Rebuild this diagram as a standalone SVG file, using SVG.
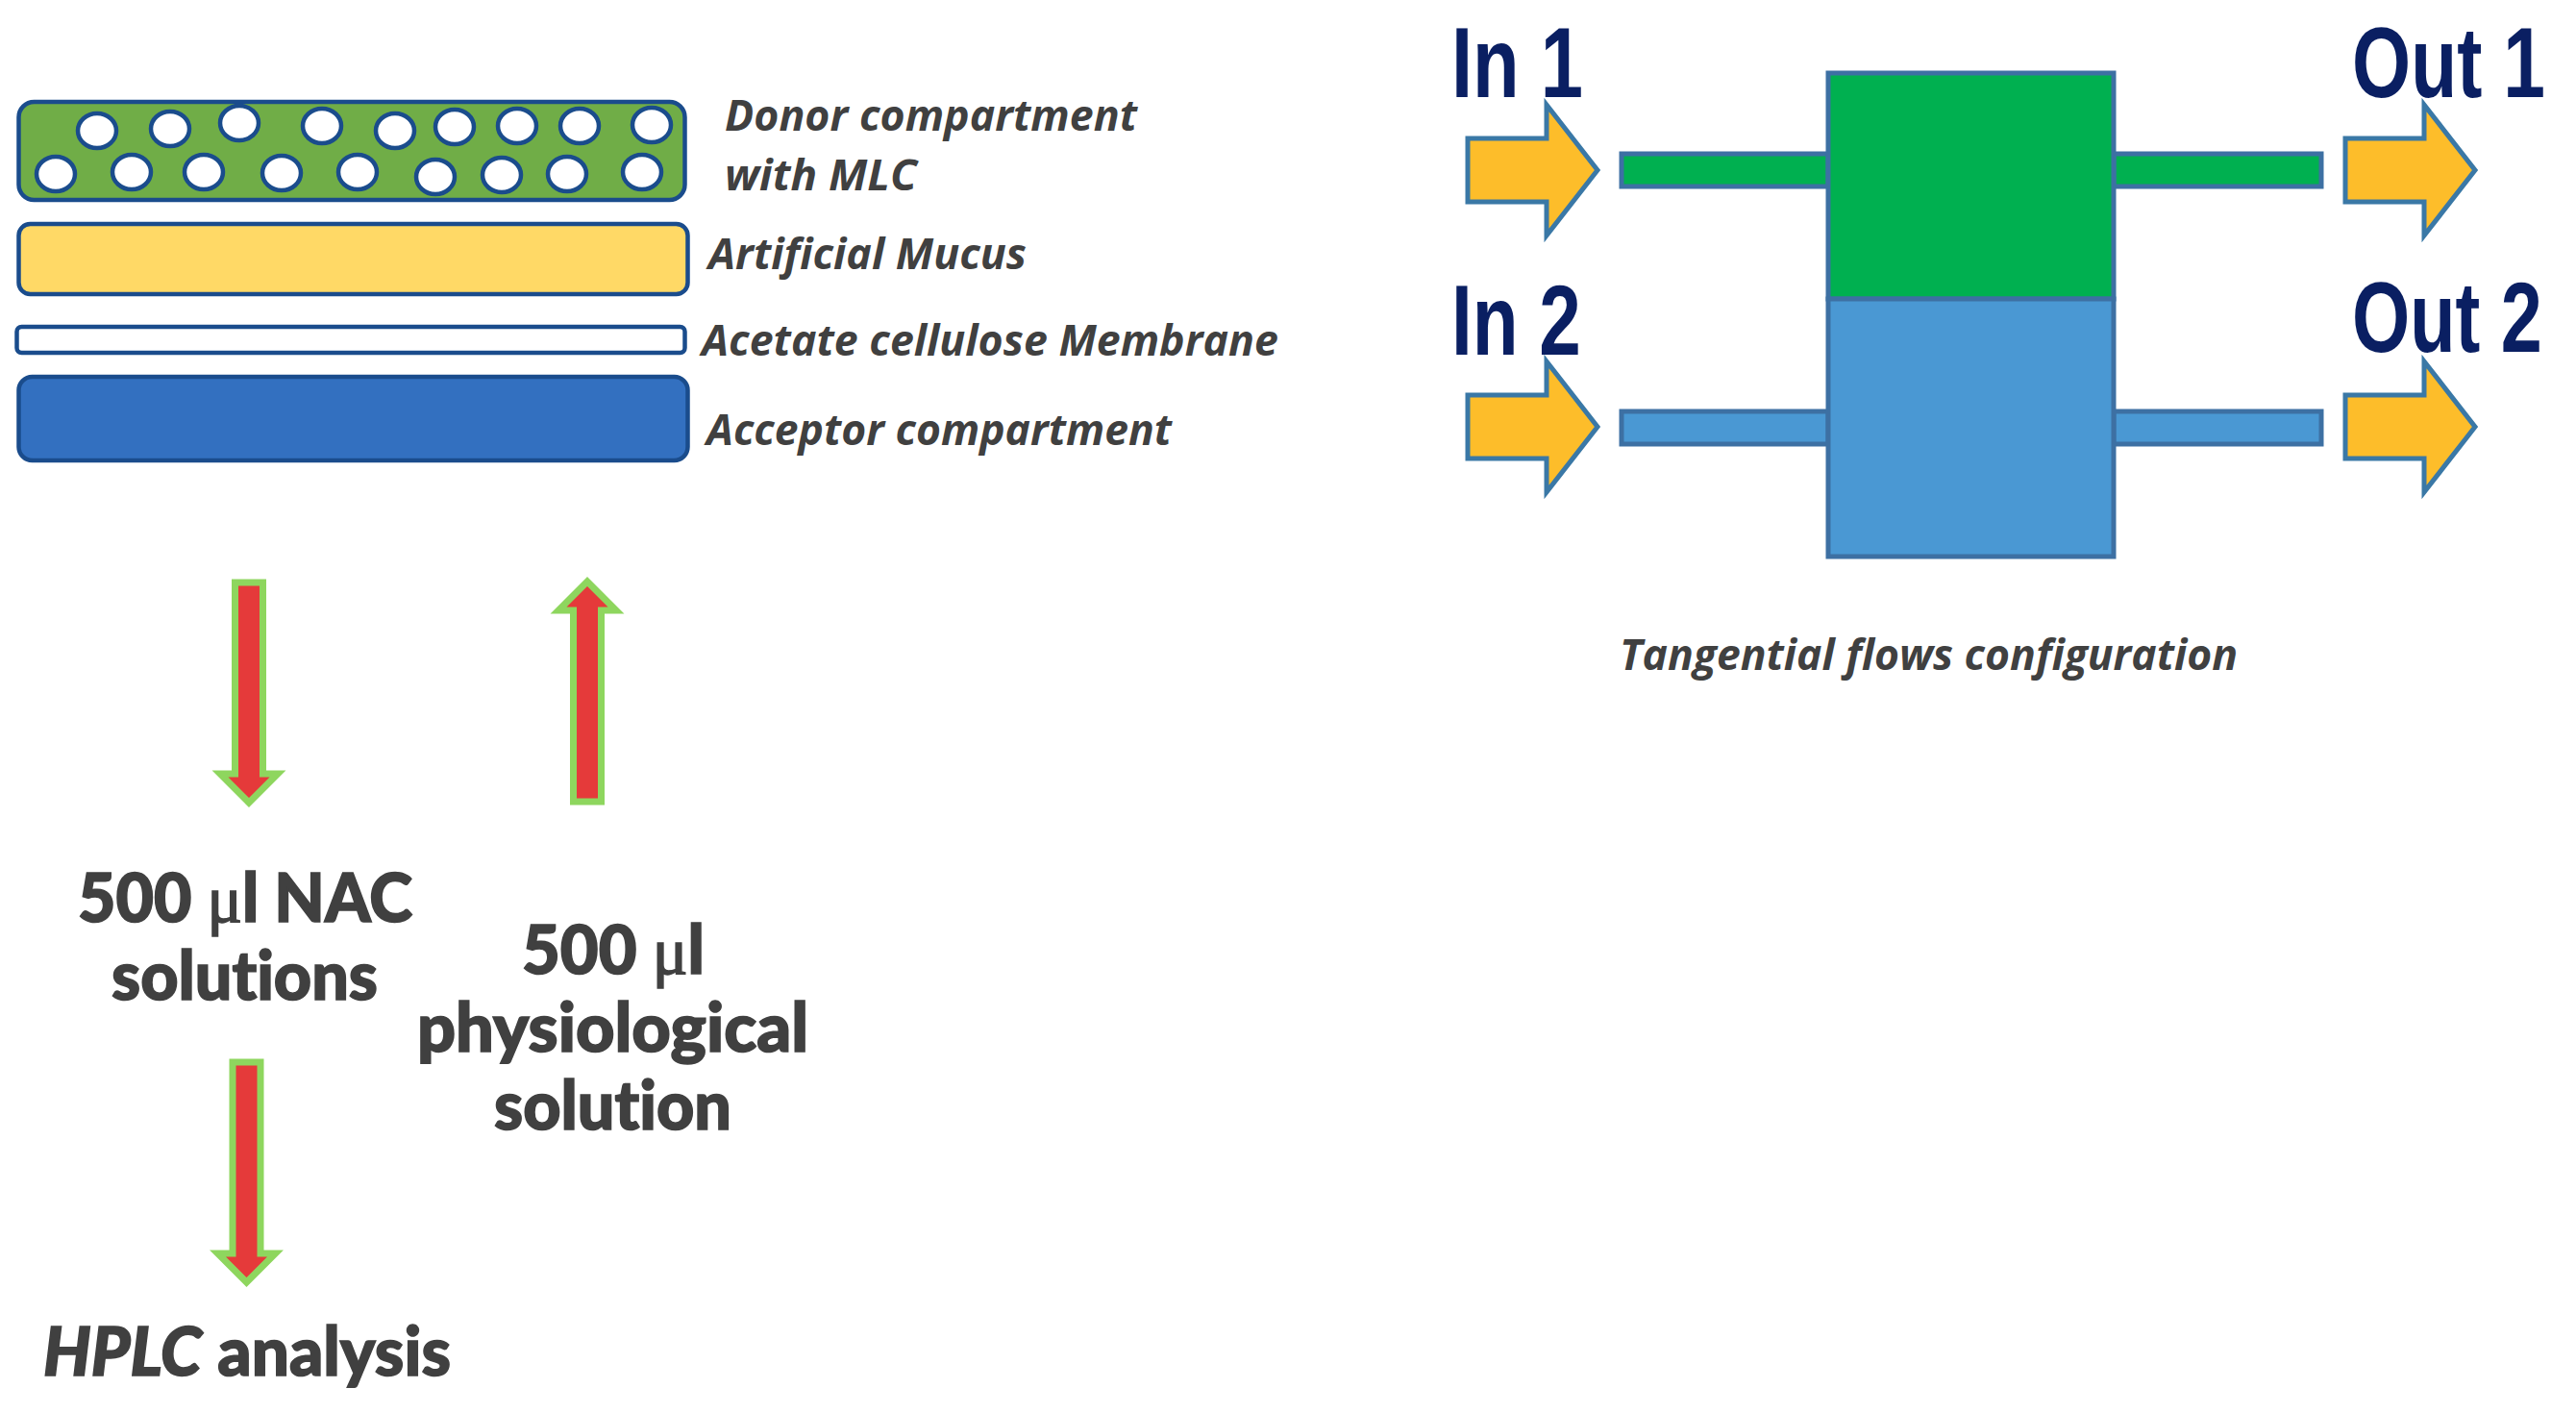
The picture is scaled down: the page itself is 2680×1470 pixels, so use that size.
<svg xmlns="http://www.w3.org/2000/svg" width="2680" height="1470" viewBox="0 0 2680 1470">
<style>
.lay{stroke:#1a4c8c;stroke-width:4.5}
.bub{fill:#fff;stroke:#1a4c8c;stroke-width:4.5}
.lbl{font-family:"Open Sans","Noto Sans",sans-serif;font-style:italic;font-weight:700;font-size:44px;fill:#404040}
.big{font-family:Lato,"Open Sans",sans-serif;font-weight:900;font-size:70px;fill:#404040;stroke:#404040;stroke-width:1.6;font-variant-ligatures:none}
.mu{font-family:"Liberation Serif",serif;font-weight:400}
.io{font-family:"Liberation Sans",Arial,sans-serif;font-weight:700;font-size:103px;fill:#0a1f62}
.flow{stroke:#3d70a3;stroke-width:5}
.g{fill:#00b050}.b{fill:#4a98d3}
.ya{fill:#fdbd2a;stroke:#3a78a6;stroke-width:5;stroke-linejoin:miter}
.ra{fill:#e53a3a;stroke:#8ed65e;stroke-width:7;stroke-linejoin:miter}
</style>
<defs>
<path id="yarrow" d="M0,-33H82V-68L135,0L82,68V33H0Z"/>
<path id="rarrow" d="M-14.5,0H14.5V199H30L0,229L-30,199H-14.5Z"/>
</defs>
<g id="donor">
<rect class="lay" x="19.5" y="106" width="693" height="102" rx="16" fill="#70ad47"/>
<g id="bubbles">
<ellipse class="bub" cx="101" cy="136" rx="20" ry="18"/><ellipse class="bub" cx="177" cy="134" rx="20" ry="18"/><ellipse class="bub" cx="249" cy="128" rx="20" ry="18"/><ellipse class="bub" cx="335" cy="131" rx="20" ry="18"/><ellipse class="bub" cx="411" cy="136" rx="20" ry="18"/><ellipse class="bub" cx="473" cy="132" rx="20" ry="18"/><ellipse class="bub" cx="538" cy="131" rx="20" ry="18"/><ellipse class="bub" cx="603" cy="131" rx="20" ry="18"/><ellipse class="bub" cx="678" cy="130" rx="20" ry="18"/>
<ellipse class="bub" cx="58" cy="181" rx="20" ry="18"/><ellipse class="bub" cx="137" cy="179" rx="20" ry="18"/><ellipse class="bub" cx="212" cy="179" rx="20" ry="18"/><ellipse class="bub" cx="293" cy="180" rx="20" ry="18"/><ellipse class="bub" cx="372" cy="179" rx="20" ry="18"/><ellipse class="bub" cx="453" cy="184" rx="20" ry="18"/><ellipse class="bub" cx="522" cy="182" rx="20" ry="18"/><ellipse class="bub" cx="590" cy="181" rx="20" ry="18"/><ellipse class="bub" cx="668" cy="179" rx="20" ry="18"/>
</g>
<text class="lbl" x="754" y="136" textLength="429" lengthAdjust="spacingAndGlyphs">Donor compartment</text>
<text class="lbl" x="754" y="198" textLength="200" lengthAdjust="spacingAndGlyphs">with MLC</text>
</g>
<g id="mucus">
<rect class="lay" x="19.5" y="233" width="696" height="73" rx="12" fill="#ffd966"/>
<text class="lbl" x="737" y="280" textLength="331" lengthAdjust="spacingAndGlyphs">Artificial Mucus</text>
</g>
<g id="membrane">
<rect class="lay" x="17.5" y="340" width="695" height="27" rx="5" fill="#fff"/>
<text class="lbl" x="730" y="370" textLength="600" lengthAdjust="spacingAndGlyphs">Acetate cellulose Membrane</text>
</g>
<g id="acceptor">
<rect class="lay" x="19.5" y="392" width="696" height="87" rx="14" fill="#3370c0"/>
<text class="lbl" x="735" y="463" textLength="484" lengthAdjust="spacingAndGlyphs">Acceptor compartment</text>
</g>
<g id="connectors">
<use href="#rarrow" class="ra" transform="translate(259,606)"/>
<use href="#rarrow" class="ra" transform="translate(611,834) scale(1,-1)"/>
<use href="#rarrow" class="ra" transform="translate(256.5,1105)"/>
<rect class="flow g" x="1687" y="160" width="215" height="34"/>
<rect class="flow g" x="2199" y="160" width="216" height="34"/>
<rect class="flow b" x="1687" y="428" width="215" height="34"/>
<rect class="flow b" x="2199" y="428" width="216" height="34"/>
<use href="#yarrow" class="ya" transform="translate(1527,177)"/>
<use href="#yarrow" class="ya" transform="translate(1527,444)"/>
<use href="#yarrow" class="ya" transform="translate(2440,177)"/>
<use href="#yarrow" class="ya" transform="translate(2440,444)"/>
</g>
<g id="nac"><text class="big" x="81" y="959" textLength="348" lengthAdjust="spacingAndGlyphs">500 <tspan class="mu">μ</tspan>l NAC</text>
<text class="big" x="116" y="1040" textLength="277" lengthAdjust="spacingAndGlyphs">solutions</text></g>
<g id="physio"><text class="big" x="543" y="1013" textLength="190" lengthAdjust="spacingAndGlyphs">500 <tspan class="mu">μ</tspan>l</text>
<text class="big" x="434" y="1094" textLength="407" lengthAdjust="spacingAndGlyphs">physiological</text>
<text class="big" x="514" y="1175" textLength="247" lengthAdjust="spacingAndGlyphs">solution</text></g>
<g id="hplc"><text class="big" x="45" y="1431" textLength="424" lengthAdjust="spacingAndGlyphs"><tspan font-style="italic">HPLC</tspan> analysis</text></g>
<g id="cell">
<rect class="flow g" x="1902" y="76" width="297" height="235"/>
<rect class="flow b" x="1902" y="311" width="297" height="268"/>
</g>
<g id="in1"><text class="io" transform="translate(1510,101) scale(0.772,1)">In 1</text></g>
<g id="in2"><text class="io" transform="translate(1510,369) scale(0.76,1)">In 2</text></g>
<g id="out1"><text class="io" transform="translate(2447,101) scale(0.763,1)">Out 1</text></g>
<g id="out2"><text class="io" transform="translate(2447,366) scale(0.752,1)">Out 2</text></g>
<g id="caption"><text class="lbl" x="1685" y="697" textLength="643" lengthAdjust="spacingAndGlyphs">Tangential flows configuration</text></g>
</svg>
